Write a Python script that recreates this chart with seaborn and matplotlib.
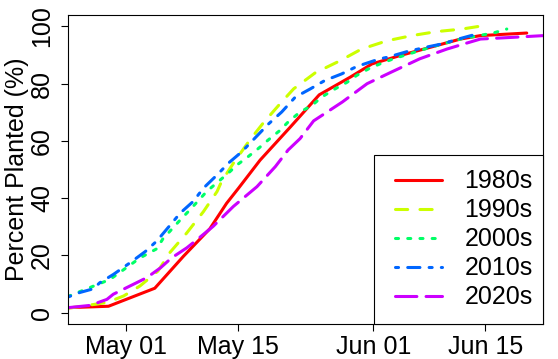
import matplotlib
matplotlib.use("Agg")
import matplotlib.pyplot as plt
from matplotlib.lines import Line2D
from matplotlib.patches import Rectangle
import seaborn as sns
import pandas as pd

# x values: days after May 01
decades = ["1980s", "1990s", "2000s", "2010s", "2020s"]
colors = ["#FF0000", "#CCFF00", "#00FF66", "#0066FF", "#CC00FF"]

days_1980s = [-7.3, -2.2, 3.6, 7.2, 10.5, 12.6, 14.1, 16.8, 18.7, 20.6, 24.2, 28.1, 30.8, 34.3, 38.1, 41.9, 44.4, 50.2]
pct_1980s = [1.7, 2.2, 8.5, 19.7, 29.3, 38.2, 43.5, 53.3, 59.1, 64.9, 76.1, 82.3, 86.9, 89.8, 92.7, 95.6, 96.8, 97.7]

days_1990s = [-7.3, -2.4, -0.3, 1.75, 4.0, 5.5, 7.6, 9.7, 11.4, 12.0, 13.45, 15.5, 17.2, 19.3, 21.0, 23.7, 26.8, 29.5, 32.7, 35.8, 38.9, 42.1, 44.6]
pct_1990s = [1.5, 3.5, 5.8, 9.3, 14.5, 21.0, 27.8, 35.3, 42.3, 46.0, 52.2, 60.3, 66.3, 73.0, 78.2, 83.8, 88.0, 92.1, 95.0, 96.8, 98.2, 99.1, 100.2]

days_2000s = [-7.3, -2.0, 1.75, 3.85, 4.6, 6.8, 8.0, 10.1, 11.4, 12.8, 13.9, 15.3, 16.6, 17.8, 19.3, 20.3, 21.8, 23.3, 24.5, 26.2, 27.7, 28.9, 30.4, 31.8, 33.5, 38.1, 41.9, 44.4, 46.0, 47.7]
pct_2000s = [5.6, 11.6, 19.1, 22.3, 25.7, 32.4, 35.9, 42.3, 45.4, 48.7, 51.6, 54.5, 57.4, 60.3, 63.7, 66.6, 70.1, 72.4, 75.3, 78.2, 80.5, 82.9, 85.2, 86.9, 88.7, 92.7, 95.6, 96.9, 97.7, 99.1]

days_2010s = [-7.3, -5.8, -4.1, -3.3, -1.6, 0.5, 2.4, 3.85, 5.3, 6.8, 8.4, 9.7, 11.4, 12.9, 14.5, 17.8, 19.5, 21.2, 23.1, 24.9, 27.0, 28.9, 31.8, 32.7, 35.2, 37.5, 39.6, 41.9, 44.0]
pct_2010s = [5.4, 7.0, 8.3, 10.4, 13.3, 17.4, 21.3, 25.0, 29.8, 34.8, 38.8, 43.5, 48.1, 52.4, 56.2, 65.8, 70.1, 75.3, 78.2, 81.1, 83.4, 86.0, 88.7, 89.2, 91.2, 92.7, 93.9, 95.8, 97.4]

days_2020s = [-7.3, -4.5, -2.4, -1.6, 0.5, 2.6, 4.3, 5.7, 7.6, 8.9, 10.9, 13.45, 16.4, 18.7, 20.3, 21.8, 23.5, 27.1, 30.2, 33.2, 36.8, 40.2, 42.7, 44.4, 48.5, 52.3]
pct_2020s = [1.7, 2.5, 4.6, 6.4, 9.3, 12.2, 15.6, 19.1, 22.6, 25.5, 30.1, 37.1, 44.0, 51.0, 56.8, 60.8, 67.0, 73.6, 80.0, 84.0, 88.7, 92.1, 94.2, 95.6, 96.2, 96.8]

tick_days = [0, 14, 31, 45]
tick_labels = ["May 01", "May 15", "Jun 01", "Jun 15"]
y_ticks = [0, 20, 40, 60, 80, 100]

days = [days_1980s, days_1990s, days_2000s, days_2010s, days_2020s]
pcts = [pct_1980s, pct_1990s, pct_2000s, pct_2010s, pct_2020s]
frames = []
for dec, d, p in zip(decades, days, pcts):
    frames.append(pd.DataFrame({"decade": dec, "day": d, "pct": p}))
df = pd.concat(frames, ignore_index=True)

dash_list = ["", (4, 4), (1, 3), (1, 3, 4, 3), (7, 3)]
dash_map = dict(zip(decades, dash_list))
palette = dict(zip(decades, colors))

sns.set_style("ticks")
plt.rcParams["font.family"] = ["Liberation Sans", "DejaVu Sans"]
for key in ["text.color", "axes.labelcolor", "xtick.color", "ytick.color", "axes.edgecolor"]:
    plt.rcParams[key] = "black"
FS = 18

fig = plt.figure(figsize=(5.58, 3.59), dpi=100)
ax = fig.add_axes([0.1219, 0.0975, 0.8507, 0.8607])

sns.lineplot(data=df, x="day", y="pct", hue="decade", style="decade",
             palette=palette, dashes=dash_map, estimator=None, sort=False,
             legend=False, lw=2.2, ax=ax)
for ln in ax.get_lines():
    ln.set_dash_capstyle("round")
    ln.set_solid_capstyle("round")
    ln.set_dash_joinstyle("round")
    ln.set_solid_joinstyle("round")

ax.set_xlim(-7.27, 52.2)
ax.set_ylim(-4, 104)
ax.set_xticks(tick_days)
ax.set_xticklabels(tick_labels)
ax.set_yticks(y_ticks)
ax.set_yticklabels([str(v) for v in y_ticks])
ax.set_xlabel("")
ax.set_ylabel("Percent Planted (%)", fontsize=FS, labelpad=1)
ax.tick_params(axis="both", labelsize=FS, length=5, width=0.8, color="black",
               labelcolor="black", direction="out")
ax.tick_params(axis="x", pad=3)
ax.tick_params(axis="y", pad=5)
for lbl in ax.get_yticklabels():
    lbl.set_rotation(90)
    lbl.set_va("center")
for sp in ax.spines.values():
    sp.set_visible(True)
    sp.set_color("black")
    sp.set_linewidth(0.8)

# legend box
rect = Rectangle((0.6446, 0.0), 0.3554, 0.547, transform=ax.transAxes,
                 facecolor="white", edgecolor="black", lw=0.8, zorder=5, clip_on=False)
ax.add_patch(rect)
handles = []
for c, d in zip(colors, dash_list):
    h = Line2D([], [], color=c, lw=2.2, dash_capstyle="round", solid_capstyle="round")
    if d:
        h.set_dashes(d)
    handles.append(h)
leg = ax.legend(handles, decades, loc="center", bbox_to_anchor=(0.834, 0.274),
                frameon=False, fontsize=FS, handlelength=1.87, handletextpad=0.9,
                labelspacing=0.2, borderpad=0, borderaxespad=0)
leg.set_zorder(6)

fig.savefig("out.png", dpi=100)
